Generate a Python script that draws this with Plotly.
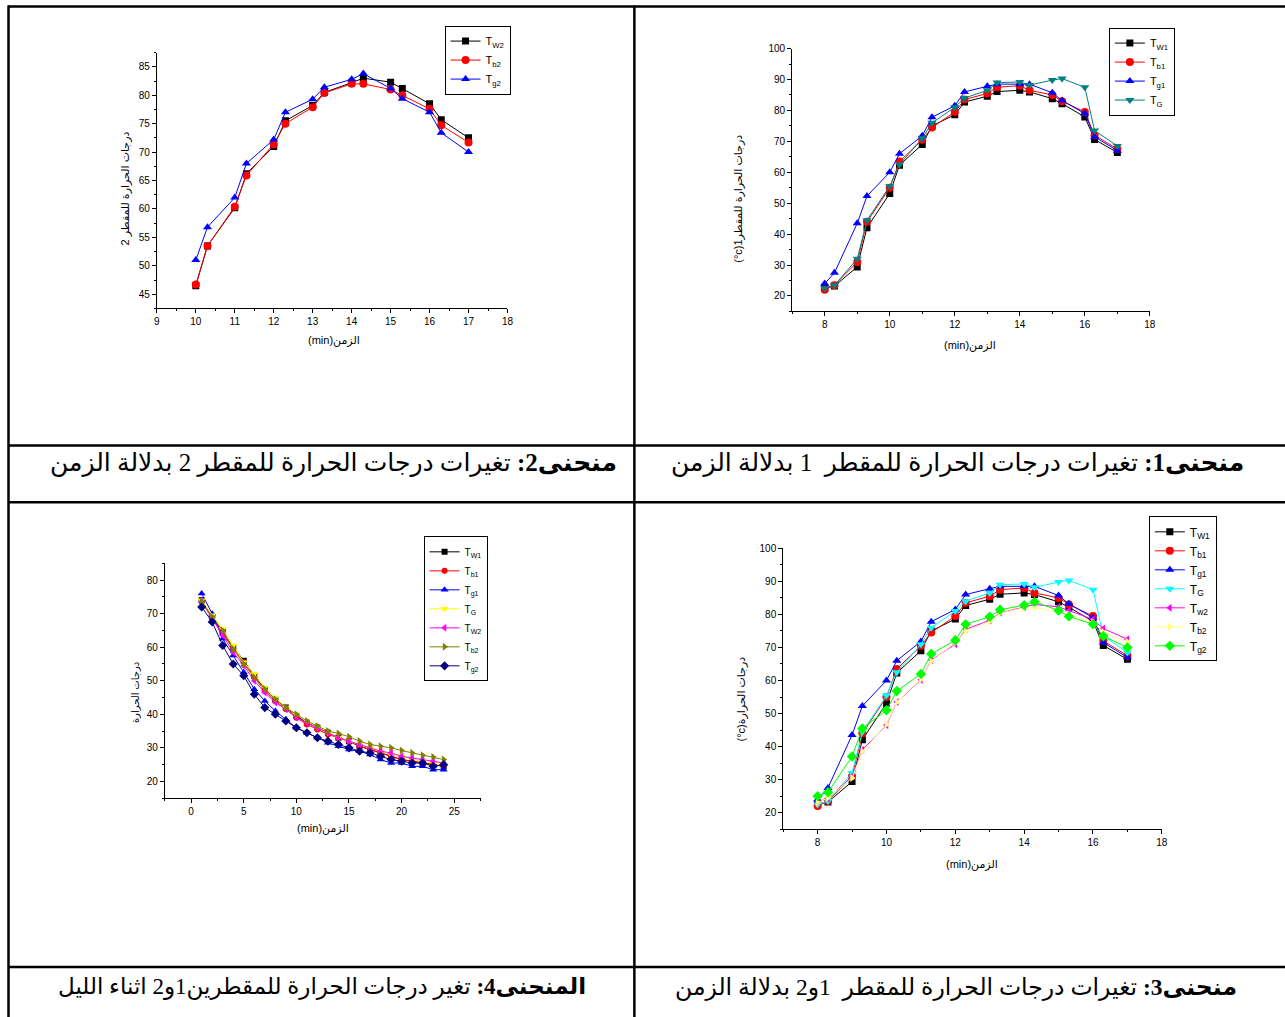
import plotly.graph_objects as go

W, H = 1285, 1017

# ---- daytime readings (both stills) ----
t_day = [8, 8.3, 9, 9.3, 10, 10.3, 11, 11.3, 12, 12.3, 13, 13.3, 14, 14.3, 15, 15.3, 16, 16.3, 17]

Tw1 = [22.6, 23.2, 29.4, 42.1, 53.1, 62.3, 69.0, 75.0, 78.6, 82.7, 84.6, 86.1, 86.5, 86.0, 83.8, 82.2, 77.9, 70.6, 66.4]
Tb1 = [22.0, 23.5, 31.0, 44.0, 55.0, 63.5, 70.5, 74.5, 79.5, 83.5, 85.5, 87.5, 88.0, 86.5, 85.0, 83.0, 79.5, 72.0, 67.5]
Tg1 = [24.0, 27.5, 43.5, 52.3, 60.0, 66.0, 71.8, 77.8, 81.5, 86.0, 87.8, 88.5, 88.5, 88.5, 85.7, 83.2, 79.0, 71.5, 67.0]
TG = [22.5, 23.5, 32.0, 44.5, 55.5, 62.5, 71.0, 76.0, 81.0, 84.0, 86.5, 89.0, 89.2, 88.2, 89.8, 90.3, 87.5, 73.5, 68.5]

Tw2 = [23.3, 24.3, 31.0, 39.0, 46.5, 53.5, 60.2, 66.2, 71.0, 75.5, 78.2, 80.5, 82.2, 83.0, 82.3, 81.2, 78.5, 75.7, 72.5]
Tb2 = [23.0, 24.5, 30.5, 38.5, 46.7, 53.5, 60.4, 65.9, 71.4, 75.0, 77.9, 80.4, 82.0, 82.0, 81.0, 80.0, 77.6, 74.7, 71.7]
Tg2 = [25.0, 26.2, 37.0, 45.5, 51.0, 56.8, 62.0, 68.0, 72.2, 77.0, 79.3, 81.4, 82.8, 83.8, 81.2, 79.4, 77.0, 73.4, 70.0]

# still 2 curve starts at 10 min
d2_start = 4

# ---- night readings ----
t_night = list(range(1, 25))
N_Tw1 = [74, 69, 64.5, 60, 56, 51.5, 47.5, 44.5, 42, 39.5, 37.5, 36, 34.5, 33, 32, 30.5, 29.5, 28.5, 27.5, 26.5, 26, 25.5, 25, 24.5]
N_Tb1 = [73.5, 69, 64, 59.5, 55.5, 51, 47, 44, 41.5, 39, 37, 35.5, 34, 33, 32, 30.5, 29.5, 28.5, 27.5, 26.5, 26, 25.5, 25, 24.5]
N_Tg1 = [76, 70, 62.5, 57.5, 52.5, 47.5, 44, 41, 38.5, 36, 34.5, 33, 31.5, 30.5, 29.5, 29, 28, 26.5, 25.5, 25.5, 24.5, 24.5, 23.5, 23.5]
N_TG = [74, 69.5, 65.5, 60.5, 55.5, 52, 48, 45, 42, 40, 38, 36, 34.5, 33, 32, 31, 30, 29, 28, 27.5, 26.5, 26, 25.5, 25]
N_Tw2 = [73.5, 68.5, 63.5, 58.5, 54.5, 50, 46.5, 43.5, 41.5, 39, 37.5, 36, 34.5, 33, 32, 31, 30, 29, 28.5, 27.5, 27, 26.5, 26, 25.5]
N_Tb2 = [73.5, 69, 65, 59.5, 55, 51, 47.5, 44.5, 42, 40, 38, 36.5, 35, 34.3, 33.3, 32, 31, 30.5, 30, 29.2, 28.5, 27.8, 27.3, 26.5]
N_Tg2 = [72, 67.5, 60.5, 55, 51.5, 46, 42, 40, 38, 36, 34.5, 33, 32, 31, 30, 29, 28.5, 27.5, 26.5, 26, 25.5, 25.5, 24.5, 25]

LBL = {
    "Tw1": "T<sub>W1</sub>", "Tb1": "T<sub>b1</sub>", "Tg1": "T<sub>g1</sub>", "TG": "T<sub>G</sub>",
    "Tw2": "T<sub>W2</sub>", "Tb2": "T<sub>b2</sub>", "Tg2": "T<sub>g2</sub>",
}
LBL3 = dict(LBL, Tw2="T<sub>w2</sub>")

FONT = "Liberation Sans, Arial, DejaVu Sans, sans-serif"
SERIF = "Liberation Serif, Times New Roman, DejaVu Sans, serif"

# page-pixel -> paper conversion (small viewport correction included)
SX, OX = 0.994, 1.0
SY, OY = 0.9946, 5.4


def px_x(p):
    return ((p - OX) / SX) / W


def px_y(p):
    return 1 - ((p - OY) / SY) / H


fig = go.Figure()


def add(x, y, name, color, symbol, xa, ya, legend, size=7, lcolor=None):
    fig.add_trace(go.Scatter(
        x=x, y=y, name=name, mode="lines+markers",
        line=dict(color=lcolor or color, width=1),
        marker=dict(color=color, symbol=symbol, size=size, line=dict(width=0)),
        xaxis=xa, yaxis=ya, legend=legend,
    ))


# chart 2 (top-left): still 2
x2 = t_day[d2_start:]
add(x2, Tw2[d2_start:], LBL["Tw2"], "black", "square", "x", "y", "legend")
add(x2, Tb2[d2_start:], LBL["Tb2"], "red", "circle", "x", "y", "legend", size=8)
add(x2, Tg2[d2_start:], LBL["Tg2"], "blue", "triangle-up", "x", "y", "legend", size=8)

# chart 1 (top-right): still 1
add(t_day, Tw1, LBL["Tw1"], "black", "square", "x2", "y2", "legend2")
add(t_day, Tb1, LBL["Tb1"], "red", "circle", "x2", "y2", "legend2", size=8)
add(t_day, Tg1, LBL["Tg1"], "blue", "triangle-up", "x2", "y2", "legend2", size=8)
add(t_day, TG, LBL["TG"], "#008080", "triangle-down", "x2", "y2", "legend2", size=8)

# chart 4 (bottom-left): night
add(t_night, N_Tw1, LBL["Tw1"], "black", "square", "x3", "y3", "legend3", size=6)
add(t_night, N_Tb1, LBL["Tb1"], "red", "circle", "x3", "y3", "legend3", size=6)
add(t_night, N_Tg1, LBL["Tg1"], "blue", "triangle-up", "x3", "y3", "legend3", size=7)
add(t_night, N_TG, LBL["TG"], "#FFFF00", "triangle-down", "x3", "y3", "legend3", size=7)
add(t_night, N_Tw2, LBL["Tw2"], "#FF00FF", "triangle-left", "x3", "y3", "legend3", size=7)
add(t_night, N_Tb2, LBL["Tb2"], "#808000", "triangle-right", "x3", "y3", "legend3", size=7)
add(t_night, N_Tg2, LBL["Tg2"], "#000080", "diamond", "x3", "y3", "legend3", size=7)

# chart 3 (bottom-right): both stills
add(t_day, Tw1, LBL3["Tw1"], "black", "square", "x4", "y4", "legend4")
add(t_day, Tb1, LBL3["Tb1"], "red", "circle", "x4", "y4", "legend4", size=8)
add(t_day, Tg1, LBL3["Tg1"], "blue", "triangle-up", "x4", "y4", "legend4", size=8)
add(t_day, TG, LBL3["TG"], "#00FFFF", "triangle-down", "x4", "y4", "legend4", size=8)
add(t_day, Tw2, LBL3["Tw2"], "#FF00FF", "triangle-left", "x4", "y4", "legend4", size=7)
add(t_day, Tb2, LBL3["Tb2"], "#FFFF80", "triangle-right", "x4", "y4", "legend4", size=7)
add(t_day, Tg2, LBL3["Tg2"], "#00FF00", "diamond", "x4", "y4", "legend4", size=8)


def axis(dom_px, rng, dtick, minor, vertical=False):
    if vertical:
        dom = [px_y(dom_px[1]), px_y(dom_px[0])]
    else:
        dom = [px_x(dom_px[0]), px_x(dom_px[1])]
    return dict(
        domain=dom, range=rng, dtick=dtick, tick0=0,
        showline=True, linecolor="black", linewidth=1,
        showgrid=False, zeroline=False, mirror=False,
        ticks="outside", ticklen=4, tickwidth=1, tickcolor="black",
        tickfont=dict(family=FONT, size=10, color="black"),
        minor=dict(ticks="outside", ticklen=2, dtick=minor, tickcolor="black", tick0=0),
    )


layout = dict(
    width=W, height=H, margin=dict(l=0, r=0, t=0, b=0),
    paper_bgcolor="white", plot_bgcolor="white",
    font=dict(family=FONT, color="black"),
    # chart 2
    xaxis=dict(axis([155, 506], [9, 18], 1, 0.5), anchor="y"),
    yaxis=dict(axis([52, 308], [42.5, 87.5], 5, 2.5, True), anchor="x"),
    # chart 1
    xaxis2=dict(axis([791, 1149], [7, 18], 2, 1), anchor="y2"),
    yaxis2=dict(axis([48, 311], [15, 100], 10, 5, True), anchor="x2"),
    # chart 4
    xaxis3=dict(axis([163, 479], [-2.5, 27.5], 5, 2.5), anchor="y3"),
    yaxis3=dict(axis([563, 798], [15, 85], 10, 5, True), anchor="x3"),
    # chart 3
    xaxis4=dict(axis([782, 1161], [7, 18], 2, 1), anchor="y4"),
    yaxis4=dict(axis([548, 829], [15, 100], 10, 5, True), anchor="x4"),
)


def legend(x0, y0, size=12, gap=0):
    return dict(
        x=px_x(x0), y=px_y(y0), xanchor="left", yanchor="top",
        bgcolor="white", bordercolor="black", borderwidth=1,
        font=dict(family=FONT, size=size, color="black"),
        tracegroupgap=gap, itemwidth=30,
    )


layout["legend"] = legend(443, 25, size=11)
layout["legend2"] = legend(1108, 27, size=11)
layout["legend3"] = legend(422, 536, size=10)
layout["legend4"] = legend(1148, 516)

fig.update_layout(**layout)

# axis titles
ann = []


def xtitle(xc, yc, text="(min)الزمن"):
    ann.append(dict(x=px_x(xc), y=px_y(yc), xref="paper", yref="paper", text=text,
                    showarrow=False, font=dict(family=FONT, size=11, color="black"),
                    xanchor="center", yanchor="middle"))


def ytitle(xc, yc, text, size=10):
    ann.append(dict(x=px_x(xc), y=px_y(yc), xref="paper", yref="paper", text=text,
                    showarrow=False, textangle=-90, font=dict(family=FONT, size=size, color="black"),
                    xanchor="center", yanchor="middle"))


xtitle(332, 340)
xtitle(969, 345)
xtitle(321, 828)
xtitle(971, 864)
ytitle(124, 188, "درجات الحرارة للمقطر 2", 11)
ytitle(737, 198, "(°c)درجات الحرارة للمقطر1", 11)
ytitle(133, 692, "درجات الحرارة", 10)
ytitle(740, 699, "(°c)درجات الحرارة", 11)


def caption(xr, yc, bold, rest, size):
    ann.append(dict(x=px_x(xr), y=px_y(yc), xref="paper", yref="paper",
                    text="<b>" + bold + "</b>" + rest,
                    showarrow=False, font=dict(family=SERIF, size=size, color="black"),
                    xanchor="right", yanchor="middle"))


caption(1245, 463, "منحنى1:", " تغيرات درجات الحرارة للمقطر  1 بدلالة الزمن", 25)
caption(618, 463, "منحنى2:", " تغيرات درجات الحرارة للمقطر 2 بدلالة الزمن", 25)
caption(1238, 987, "منحنى3:", " تغيرات درجات الحرارة للمقطر  1و2 بدلالة الزمن", 23.5)
caption(587, 987, "المنحنى4:", " تغير درجات الحرارة للمقطرين1و2 اثناء الليل", 23)

fig.update_layout(annotations=ann)

# table rules
shapes = []


def hline(y, x0=6, x1=1290):
    shapes.append(dict(type="line", xref="paper", yref="paper",
                       x0=px_x(x0), x1=px_x(x1), y0=px_y(y), y1=px_y(y),
                       line=dict(color="black", width=2.5)))


def vline(x, y0=5, y1=1020):
    shapes.append(dict(type="line", xref="paper", yref="paper",
                       x0=px_x(x), x1=px_x(x), y0=px_y(y0), y1=px_y(y1),
                       line=dict(color="black", width=2.5)))


hline(6)
hline(445)
hline(502)
hline(967)
vline(6.5)
vline(633)
fig.update_layout(shapes=shapes)

fig.write_html("out.html")
